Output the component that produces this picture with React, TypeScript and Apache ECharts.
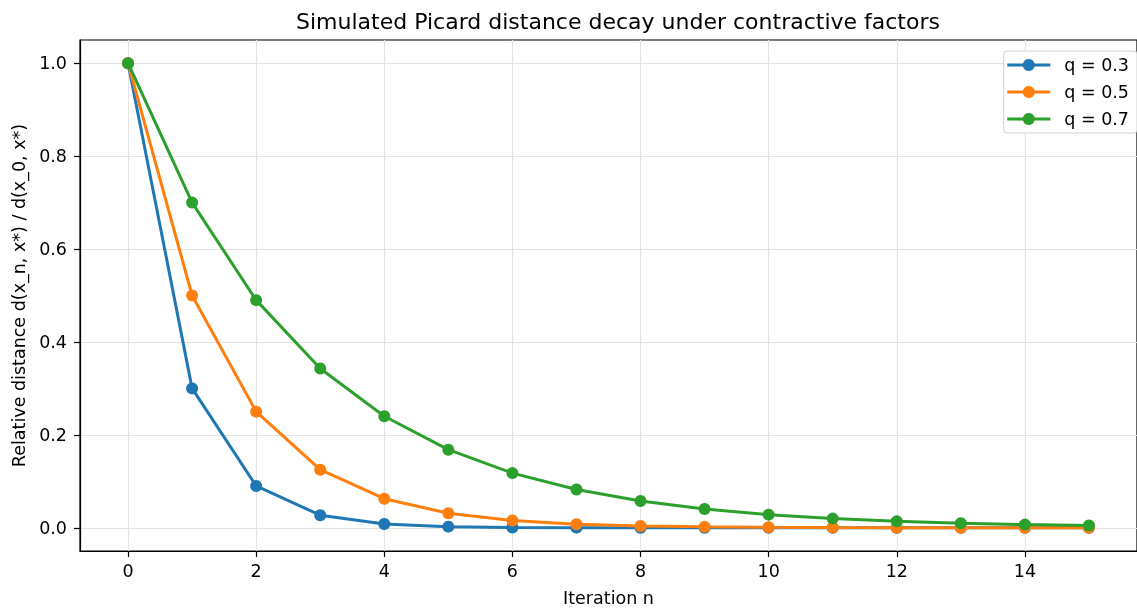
import React, { useEffect, useRef } from "react";
import * as echarts from "echarts";

const iterations = [0, 1, 2, 3, 4, 5, 6, 7, 8, 9, 10, 11, 12, 13, 14, 15];
const q03 = [1, 0.3, 0.09, 0.027, 0.0081, 0.00243, 0.000729, 0.000219, 0.0000656, 0.0000197, 0.0000059, 0.0000018, 0.00000053, 0.00000016, 0.000000048, 0.000000014];
const q05 = [1, 0.5, 0.25, 0.125, 0.0625, 0.03125, 0.015625, 0.0078125, 0.0039063, 0.0019531, 0.0009766, 0.0004883, 0.0002441, 0.0001221, 0.000061, 0.0000305];
const q07 = [1, 0.7, 0.49, 0.343, 0.2401, 0.16807, 0.117649, 0.0823543, 0.057648, 0.040354, 0.028248, 0.019773, 0.013841, 0.009689, 0.006782, 0.004748];
const seriesNames = ["q = 0.3", "q = 0.5", "q = 0.7"];
const colors = ["#1f77b4", "#ff7f0e", "#2ca02c"];
const xTicks = [0, 2, 4, 6, 8, 10, 12, 14];
const yTicks = [0, 0.2, 0.4, 0.6, 0.8, 1.0];

const FONT = "DejaVu Sans";

export default function App() {
  const ref = useRef<HTMLDivElement>(null);
  useEffect(() => {
    if (!ref.current) return;
    const chart = echarts.init(ref.current, null, { renderer: "svg" });
    const all = [q03, q05, q07];
    chart.setOption({
      animation: false,
      textStyle: { fontFamily: FONT },
      title: {
        text: "Simulated Picard distance decay under contractive factors",
        left: 613,
        textAlign: "center",
        top: 5,
        textStyle: { fontFamily: FONT, fontSize: 22, fontWeight: "normal", color: "#000" },
      },
      legend: {
        right: 0,
        top: 51,
        orient: "vertical",
        itemWidth: 43,
        itemHeight: 15,
        itemGap: 9,
        padding: [5, 8, 5, 2],
        backgroundColor: "#fff",
        borderColor: "#d0d0d0",
        borderWidth: 1,
        borderRadius: 3,
        lineStyle: { width: 3 },
        textStyle: { fontFamily: FONT, fontSize: 17.5, color: "#000", padding: [0, 0, 0, 9] },
        data: seriesNames,
      },
      grid: {
        left: 80,
        top: 40,
        width: 1066,
        height: 516,
        show: true,
        borderColor: "#000",
        borderWidth: 1.2,
        backgroundColor: "transparent",
      },
      xAxis: {
        type: "value",
        min: -0.75,
        max: 15.75,
        name: "Iteration n",
        nameLocation: "middle",
        nameGap: 38,
        nameTextStyle: { fontFamily: FONT, fontSize: 17.5, color: "#000" },
        axisLine: { show: true, onZero: false, lineStyle: { color: "#000", width: 1.2 } },
        axisTick: { show: true, customValues: xTicks, length: 6, lineStyle: { color: "#000", width: 1.2 } },
        axisLabel: { customValues: xTicks, fontFamily: FONT, fontSize: 17.5, color: "#000", margin: 11 },
        splitLine: { show: true, lineStyle: { color: "#e3e3e3", width: 1.2 } },
      },
      yAxis: {
        type: "value",
        min: -0.05,
        max: 1.05,
        name: "Relative distance d(x_n, x*) / d(x_0, x*)",
        nameLocation: "middle",
        nameGap: 51,
        nameRotate: 90,
        nameTextStyle: { fontFamily: FONT, fontSize: 17.5, color: "#000" },
        axisLine: { show: true, onZero: false, lineStyle: { color: "#000", width: 1.2 } },
        axisTick: { show: true, customValues: yTicks, length: 6, lineStyle: { color: "#000", width: 1.2 } },
        axisLabel: {
          customValues: yTicks,
          fontFamily: FONT,
          fontSize: 17.5,
          color: "#000",
          margin: 13,
          formatter: (v: number) => v.toFixed(1),
        },
        splitLine: { show: true, lineStyle: { color: "#e3e3e3", width: 1.2 } },
      },
      series: all.map((vals, i) => ({
        name: seriesNames[i],
        type: "line",
        data: iterations.map((n, j) => [n, vals[j]]),
        symbol: "circle",
        symbolSize: 12,
        color: colors[i],
        lineStyle: { width: 3, color: colors[i] },
        itemStyle: { color: colors[i] },
        z: 2 + i,
      })),
    });
    return () => chart.dispose();
  }, []);
  return <div ref={ref} style={{ position: "fixed", left: 0, top: 0, width: 1137, height: 612 }} />;
}
